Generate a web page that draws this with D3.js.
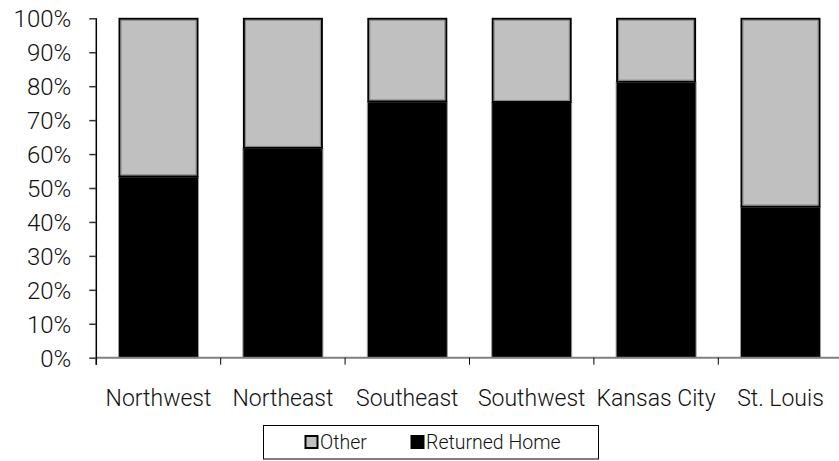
<!DOCTYPE html>
<html>
<head>
<meta charset="utf-8">
<script src="https://cdn.jsdelivr.net/npm/d3@7"></script>
<style>
  html, body { margin: 0; padding: 0; background: #fff; }
  svg { display: block; }
  text { font-family: Roboto, "Open Sans", sans-serif; font-weight: 300; fill: #111; }
</style>
</head>
<body>
<div id="chart"></div>
<script>
const categories = ["Northwest", "Northeast", "Southeast", "Southwest", "Kansas City", "St. Louis"];
const returnedHome = [53.3, 61.7, 75.4, 75.2, 81.2, 44.4];
const other = returnedHome.map(v => 100 - v);
const yTicks = [0, 10, 20, 30, 40, 50, 60, 70, 80, 90, 100];
const seriesNames = ["Other", "Returned Home"];

const W = 839, H = 461;
const svg = d3.select("#chart").append("svg").attr("width", W).attr("height", H);

const x0 = 96.3, y0 = 357.7, yTop = 18.3;
const x = d3.scaleBand().domain(categories).range([x0, x0 + 124.4 * categories.length])
  .paddingInner(0.357).paddingOuter(0.1785);
const y = d3.scaleLinear().domain([0, 100]).range([y0, yTop]);

// bars
const g = svg.append("g");
categories.forEach((c, i) => {
  const bx = x(c), bw = x.bandwidth();
  g.append("rect")
    .attr("x", bx).attr("y", y(returnedHome[i]))
    .attr("width", bw).attr("height", y(0) - y(returnedHome[i]))
    .attr("fill", "#000").attr("stroke", "#9a9a9a").attr("stroke-width", 1);
  if (other[i] > 0) {
    g.append("rect")
      .attr("x", bx + 1).attr("y", y(100) + 0.5)
      .attr("width", bw - 2).attr("height", y(returnedHome[i]) - y(100) - 1)
      .attr("fill", "#c0c0c0").attr("stroke", "#000").attr("stroke-width", 2);
    g.append("rect")
      .attr("x", bx + 2.5).attr("y", y(100) + 2)
      .attr("width", bw - 5).attr("height", y(returnedHome[i]) - y(100) - 4)
      .attr("fill", "none").attr("stroke", "#888").attr("stroke-width", 1);
  }
});

// x axis
const xAxis = svg.append("g");
xAxis.append("line").attr("x1", x0).attr("x2", W + 5).attr("y1", y0).attr("y2", y0)
  .attr("stroke", "#808080").attr("stroke-width", 2);
const boundaries = d3.range(categories.length + 1).map(i => x0 + x.step() * i);
boundaries.forEach(bx => {
  xAxis.append("line").attr("x1", bx).attr("x2", bx).attr("y1", y0).attr("y2", y0 + 7)
    .attr("stroke", "#000").attr("stroke-width", 1);
});
categories.forEach(c => {
  xAxis.append("text").attr("x", x(c) + x.bandwidth() / 2).attr("y", 398)
    .attr("text-anchor", "middle").attr("dominant-baseline", "central")
    .attr("font-size", 23).text(c);
});

// y axis
const yAxisG = svg.append("g").attr("transform", `translate(${x0},0)`)
  .call(d3.axisLeft(y).tickValues(yTicks).tickSize(7).tickPadding(18).tickFormat(d => d + "%"));
yAxisG.select(".domain").attr("d", `M0,${yTop}V${y0 + 7}`).attr("stroke", "#000").attr("stroke-width", 1.5);
yAxisG.selectAll(".tick line").attr("stroke", "#333").attr("stroke-width", 1.5);
yAxisG.selectAll(".tick text").attr("font-size", 24).attr("font-family", null).attr("fill", "#111").attr("dy", "0.35em");

// legend
const lg = svg.append("g");
lg.append("rect").attr("x", 263.5).attr("y", 425.5).attr("width", 335).attr("height", 33.5)
  .attr("fill", "#fff").attr("stroke", "#000").attr("stroke-width", 1);
const legendItems = [
  { name: seriesNames[0], fill: "#c0c0c0", sx: 305.5, tx: 320 },
  { name: seriesNames[1], fill: "#000", sx: 411.5, tx: 426 }
];
legendItems.forEach(it => {
  lg.append("rect").attr("x", it.sx).attr("y", 436).attr("width", 12).attr("height", 12)
    .attr("fill", it.fill).attr("stroke", "#000").attr("stroke-width", 2);
  lg.append("text").attr("x", it.tx).attr("y", 442.5).attr("dominant-baseline", "central")
    .attr("font-size", 19.5).text(it.name);
});
</script>
</body>
</html>
